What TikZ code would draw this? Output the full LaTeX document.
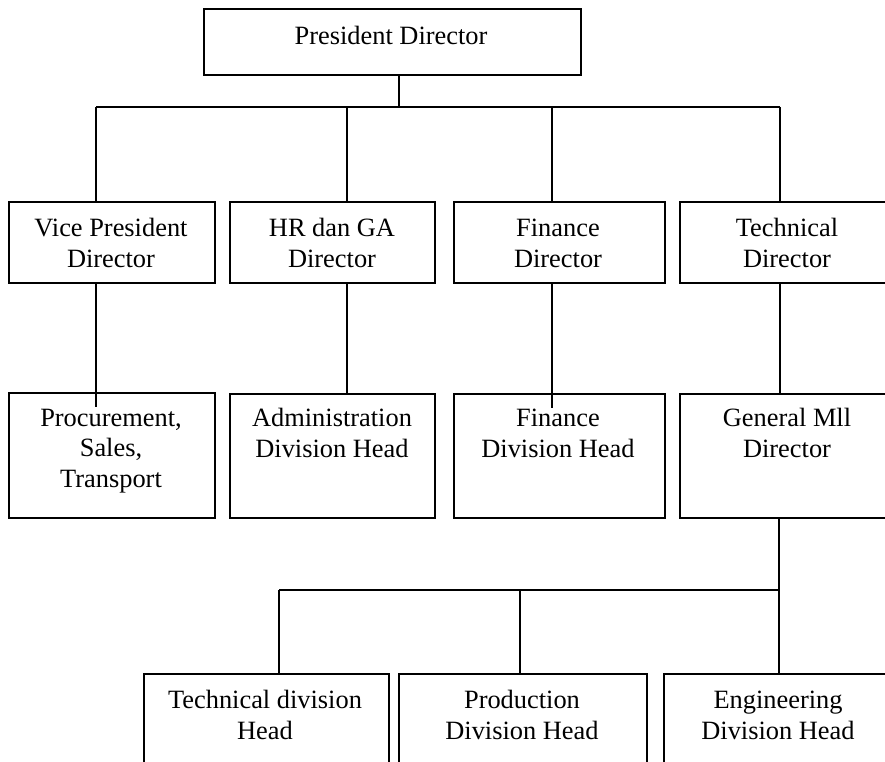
\documentclass[tikz,border=0pt]{standalone}
\usepackage{fontspec}
\setmainfont{Liberation Serif}
\begin{document}
\begin{tikzpicture}[x=1pt,y=-1pt,
  box/.style={draw, line width=1.6pt, rectangle, inner sep=0pt, anchor=north west},
  lbl/.style={anchor=base, align=center, inner sep=0pt, font=\fontsize{26.4}{30.5}\selectfont},
  conn/.style={line width=1.2pt},
  bar/.style={line width=1.5pt}]
\useasboundingbox (0,0) rectangle (885,762);
\clip (0,0) rectangle (885,762);
% row 1
\node[box, minimum width=377pt, minimum height=66pt] (pd) at (203,8) {};
\node[lbl] (pdt) at (391,45) {President Director};
% row 2
\node[box, minimum width=206pt, minimum height=81pt] (vp) at (8,201) {};
\node[box, minimum width=205pt, minimum height=81pt] (hr) at (229,201) {};
\node[box, minimum width=211pt, minimum height=81pt] (fd) at (453,201) {};
\node[box, minimum width=220pt, minimum height=81pt] (td) at (679,201) {};
\node[lbl] (vpt) at (111,267) {Vice President\\Director};
\node[lbl] (hrt) at (332,267) {HR dan GA\\Director};
\node[lbl] (fdt) at (558,267) {Finance\\Director};
\node[lbl] (tdt) at (787,267) {Technical\\Director};
% row 3
\node[box, minimum width=206pt, minimum height=125pt] (ps) at (8,392) {};
\node[box, minimum width=205pt, minimum height=124pt] (ad) at (229,393) {};
\node[box, minimum width=211pt, minimum height=124pt] (fh) at (453,393) {};
\node[box, minimum width=220pt, minimum height=124pt] (gm) at (679,393) {};
\node[lbl] (pst) at (111,487) {Procurement,\\Sales,\\Transport};
\node[lbl] (adt) at (332,457) {Administration\\Division Head};
\node[lbl] (fht) at (558,457) {Finance\\Division Head};
\node[lbl] (gmt) at (787,457) {General Mll\\Director};
% row 4
\node[box, minimum width=245pt, minimum height=140pt] (th) at (143,673) {};
\node[box, minimum width=248pt, minimum height=140pt] (ph) at (398,673) {};
\node[box, minimum width=232pt, minimum height=140pt] (eh) at (663,673) {};
\node[lbl] (tht) at (265,739) {Technical division\\Head};
\node[lbl] (pht) at (522,739) {Production\\Division Head};
\node[lbl] (eht) at (778,739) {Engineering\\Division Head};
% junctions
\coordinate (t0) at (399,107);
\coordinate (b1) at (96,107);
\coordinate (b2) at (347,107);
\coordinate (b3) at (552,107);
\coordinate (b4) at (780,107);
\coordinate (c1) at (96,407);
\coordinate (c3) at (552,408);
\coordinate (m0) at (779,590);
\coordinate (m1) at (279,590);
\coordinate (m2) at (520,590);
% connectors
\draw[conn] (t0 |- pd.south) -- (t0);
\draw[bar] (b1) -- (b4);
\draw[conn] (b1) -- (b1 |- vp.north);
\draw[conn] (b2) -- (b2 |- hr.north);
\draw[conn] (b3) -- (b3 |- fd.north);
\draw[conn] (b4) -- (b4 |- td.north);
\draw[conn] (b1 |- vp.south) -- (c1);
\draw[conn] (b2 |- hr.south) -- (b2 |- ad.north);
\draw[conn] (b3 |- fd.south) -- (c3);
\draw[conn] (b4 |- td.south) -- (b4 |- gm.north);
\draw[conn] (m0 |- gm.south) -- (m0);
\draw[bar] (m1) -- (m0);
\draw[conn] (m1) -- (m1 |- th.north);
\draw[conn] (m2) -- (m2 |- ph.north);
\draw[conn] (m0) -- (m0 |- eh.north);
\end{tikzpicture}
\end{document}
